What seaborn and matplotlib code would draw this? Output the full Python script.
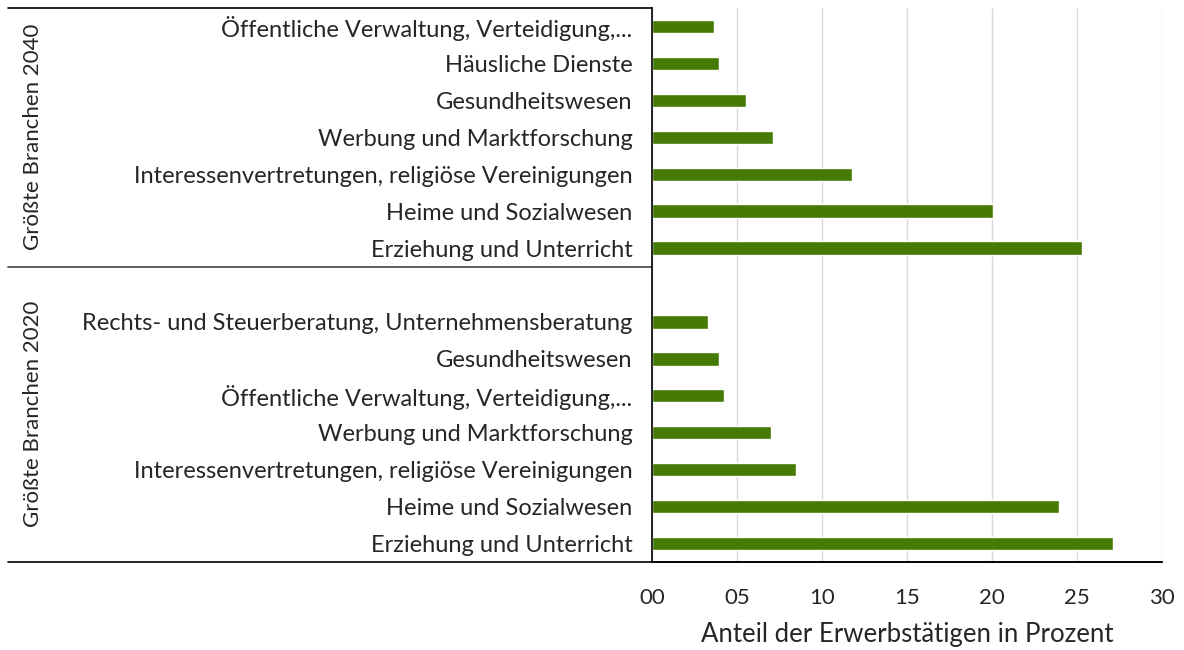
import matplotlib
matplotlib.use("Agg")
import matplotlib.pyplot as plt
import seaborn as sns
import pandas as pd

# Kategorien und Werte (Anteil der Erwerbstätigen in Prozent)
labels_2040 = ["Öffentliche Verwaltung, Verteidigung,...", "Häusliche Dienste", "Gesundheitswesen",
               "Werbung und Marktforschung", "Interessenvertretungen, religiöse Vereinigungen",
               "Heime und Sozialwesen", "Erziehung und Unterricht"]
values_2040 = [3.64, 3.94, 5.53, 7.11, 11.74, 20.03, 25.30]

labels_2020 = ["Rechts- und Steuerberatung, Unternehmensberatung", "Gesundheitswesen",
               "Öffentliche Verwaltung, Verteidigung,...", "Werbung und Marktforschung",
               "Interessenvertretungen, religiöse Vereinigungen", "Heime und Sozialwesen",
               "Erziehung und Unterricht"]
values_2020 = [3.31, 3.94, 4.25, 6.98, 8.48, 23.96, 27.10]

group_names = ["Größte Branchen 2040", "Größte Branchen 2020"]
x_ticks = [0, 5, 10, 15, 20, 25, 30]

# Tabelle mit eindeutigen Schlüsseln (Labels kommen doppelt vor)
rows = []
for lab, val in zip(labels_2040, values_2040):
    rows.append({"key": "2040|" + lab, "label": lab, "value": val})
for lab, val in zip(labels_2020, values_2020):
    rows.append({"key": "2020|" + lab, "label": lab, "value": val})
df = pd.DataFrame(rows)

order = ["2040|" + l for l in labels_2040] + ["blank"] + ["2020|" + l for l in labels_2020]
tick_text = labels_2040 + [""] + labels_2020

sns.set_style("white")
plt.rcParams["font.family"] = ["Lato", "DejaVu Sans"]
text_color = "#262626"

fig = plt.figure(figsize=(11.84, 6.5), dpi=100)
ax = fig.add_axes([652 / 1184, 1 - 562 / 650, 510 / 1184, 554 / 650])

sns.barplot(data=df, x="value", y="key", order=order, color="#467A06",
            width=0.36, saturation=1, ax=ax)

ax.set_xlim(0, 30)
ax.set_ylim(14.5, -0.5)
ax.set_xticks(x_ticks)
ax.set_xticklabels([f"{t:02d}" for t in x_ticks], fontsize=16, color=text_color)
ax.set_yticks(range(len(order)))
ax.set_yticklabels(tick_text, fontsize=17, color=text_color)
ax.tick_params(axis="y", length=0, pad=14)
ax.tick_params(axis="x", length=0, pad=19)
ax.set_xlabel("Anteil der Erwerbstätigen in Prozent", fontsize=18.5, color=text_color, labelpad=10)
ax.set_ylabel("")

ax.grid(axis="x", color="#d9d9d9", linewidth=1)
ax.set_axisbelow(True)
for side in ["top", "right"]:
    ax.spines[side].set_visible(False)
ax.spines["left"].set_color("black")
ax.spines["bottom"].set_color("black")
ax.spines["left"].set_linewidth(1.2)
ax.spines["bottom"].set_linewidth(1.2)

# Linien der mehrstufigen Kategorieachse
left_x = -(652 - 8) / 510
trans = ax.get_yaxis_transform()
ax.plot([left_x, 0], [-0.5, -0.5], transform=trans, color="black", lw=1.2, clip_on=False)
ax.plot([left_x, 0], [6.5, 6.5], transform=trans, color="#404040", lw=1.2, clip_on=False)
ax.plot([left_x, 1], [14.5, 14.5], transform=trans, color="black", lw=1.2, clip_on=False)

# Gruppenbeschriftungen
ax.text(-(652 - 33) / 510, 3.0, group_names[0], transform=trans, rotation=90,
        ha="center", va="center", fontsize=16, color=text_color)
ax.text(-(652 - 33) / 510, 10.5, group_names[1], transform=trans, rotation=90,
        ha="center", va="center", fontsize=16, color=text_color)

fig.savefig("out.png", dpi=100)
